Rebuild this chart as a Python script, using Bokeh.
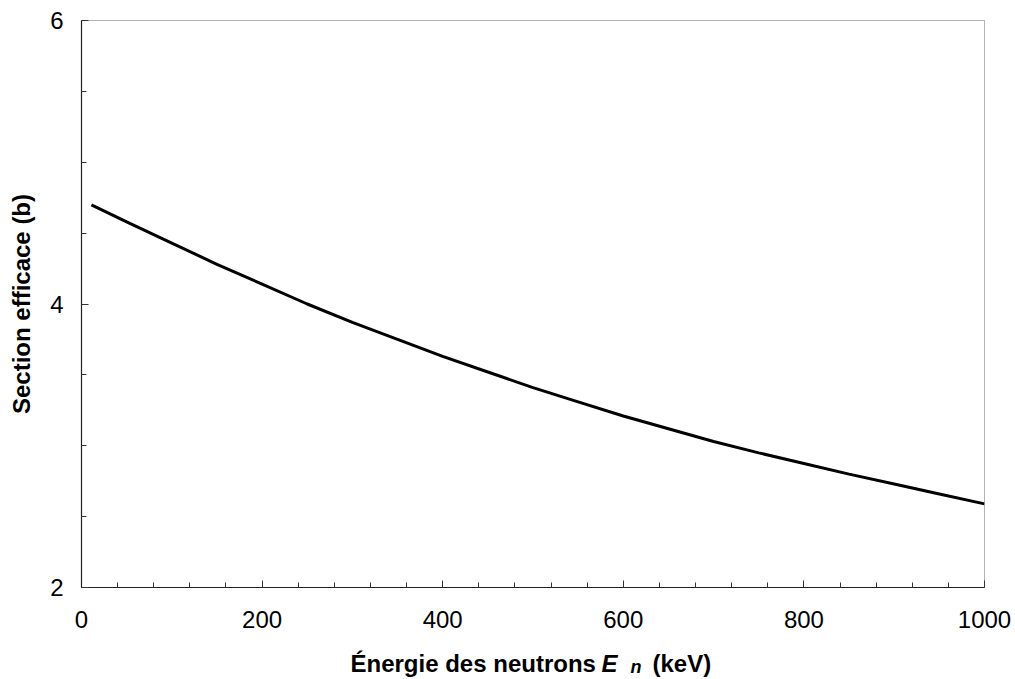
from bokeh.plotting import figure
from bokeh.models import Range1d, FixedTicker
from bokeh.layouts import column
from bokeh.core.properties import value
from bokeh.embed import file_html
from bokeh.resources import INLINE

# Neutron energy (keV) and cross section (barn)
energy_kev = [11, 50, 100, 150, 200, 250, 300, 350, 400, 450, 500,
              550, 600, 650, 700, 750, 800, 850, 900, 950, 1000]
cross_section_b = [4.70, 4.58, 4.43, 4.28, 4.14, 4.00, 3.87, 3.75, 3.63, 3.52, 3.41,
                   3.31, 3.21, 3.12, 3.03, 2.95, 2.875, 2.80, 2.73, 2.66, 2.59]

x_major = [0, 200, 400, 600, 800, 1000]
x_minor = [v for v in range(0, 1001, 40) if v % 200 != 0]
y_major = [2, 4, 6]
y_minor = [2.5, 3, 3.5, 4.5, 5, 5.5]

FONT = "Liberation Sans"
LEFT, RIGHT = 81, 31

p = figure(width=1015, height=635, output_backend="svg", toolbar_location=None,
           x_range=Range1d(0, 1000), y_range=Range1d(2, 6),
           min_border_left=LEFT, min_border_right=RIGHT, min_border_top=20, min_border_bottom=48)

p.background_fill_color = "white"
p.border_fill_color = "white"
p.outline_line_color = "#666666"
p.outline_line_dash = "1 1"
p.outline_line_width = 1
p.xgrid.visible = False
p.ygrid.visible = False

p.line(energy_kev, cross_section_b, line_color="black", line_width=3)

for ax in (p.xaxis, p.yaxis):
    ax.axis_line_color = "#222222"
    ax.axis_line_width = 1.2
    ax.major_tick_in = 7
    ax.major_tick_out = 0
    ax.minor_tick_in = 5
    ax.minor_tick_out = 0
    ax.major_tick_line_color = "#333333"
    ax.minor_tick_line_color = "#333333"
    ax.major_label_text_font = FONT
    ax.major_label_text_font_size = "24px"
    ax.major_label_text_color = "black"

p.xaxis.ticker = FixedTicker(ticks=x_major, minor_ticks=x_minor)
p.yaxis.ticker = FixedTicker(ticks=y_major, minor_ticks=y_minor)
p.xaxis.major_label_standoff = 23
p.yaxis.major_label_standoff = 18

p.yaxis.axis_label = "Section efficace (b)"
p.yaxis.axis_label_text_font = FONT
p.yaxis.axis_label_text_font_size = "24px"
p.yaxis.axis_label_text_font_style = "bold"
p.yaxis.axis_label_text_color = "black"
p.yaxis.axis_label_standoff = 12

# X axis title strip (pixel-like coordinates): bold text with italic E and subscript n
t = figure(width=1015, height=44, output_backend="svg", toolbar_location=None,
           x_axis_location=None, y_axis_location=None,
           x_range=Range1d(LEFT, 1015 - RIGHT), y_range=Range1d(0, 44),
           min_border_left=LEFT, min_border_right=RIGHT, min_border_top=0, min_border_bottom=0)
t.xgrid.visible = False
t.ygrid.visible = False
t.outline_line_color = None
t.border_fill_color = "white"

base = dict(text_font=value(FONT), text_color="black", text_baseline="alphabetic",
            text_align="left")
t.text(x=[350], y=[16], text=["Énergie des neutrons"],
       text_font_size=value("24px"), text_font_style=value("bold"), **base)
t.text(x=[601], y=[16], text=["E"],
       text_font_size=value("24px"), text_font_style=value("bold italic"), **base)
t.text(x=[630], y=[13], text=["n"],
       text_font_size=value("18px"), text_font_style=value("bold italic"), **base)
t.text(x=[652], y=[16], text=["(keV)"],
       text_font_size=value("24px"), text_font_style=value("bold"), **base)

layout = column(p, t, spacing=0)
open("out.html", "w").write(file_html(layout, INLINE))
